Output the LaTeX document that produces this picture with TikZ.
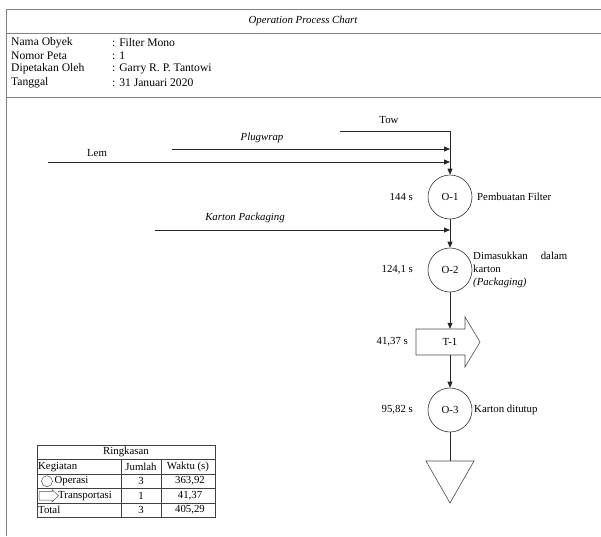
\documentclass[tikz,border=0pt]{standalone}
\usepackage{fontspec}
\setmainfont{Liberation Serif}
\usetikzlibrary{arrows.meta}
\begin{document}
\begin{tikzpicture}[x=1pt,y=-1pt,
  font=\fontsize{10.8}{13.3}\selectfont,
  frame/.style={draw=black!50, line width=0.9pt},
  op/.style={circle, draw=black!80, minimum size=44pt, inner sep=0pt, line width=0.6pt},
  conn/.style={draw=black!85, line width=0.75pt, -{Triangle[length=6pt,width=5pt]}},
  plainline/.style={draw=black!85, line width=0.75pt},
  shapeline/.style={draw=black!70, line width=0.6pt},
  lbl/.style={inner sep=0pt},
  hdr/.style={inner sep=0pt, anchor=west, font=\fontsize{11.6}{13.3}\selectfont},
  tbl/.style={draw=black!75, line width=0.6pt}]
\useasboundingbox (0,0) rectangle (601,536);

% frame
\draw[frame] (601,9) -- (6,9) -- (6,536);
\draw[frame] (6,33) -- (601,33);
\draw[frame] (6,97) -- (601,97);

% header
\node[lbl] (title) at (303,21) {\itshape Operation Process Chart};
\node[hdr] (h1) at (11,42.5) {Nama Obyek};
\node[hdr] (h2) at (11,55.8) {Nomor Peta};
\node[hdr] (h3) at (11,69.1) {Dipetakan Oleh};
\node[hdr] (h4) at (11,82.4) {Tanggal};
\node[hdr] (v1) at (112,42.5) {: Filter Mono};
\node[hdr] (v2) at (112,55.8) {: 1};
\node[hdr] (v3) at (112,69.1) {: Garry R. P. Tantowi};
\node[hdr] (v4) at (112,82.4) {: 31 Januari 2020};

% process nodes
\node[op] (o1) at (450,197) {O-1};
\node[op] (o2) at (450,270) {O-2};
\node[lbl, minimum height=26pt] (t1) at (450,342) {T-1};
\draw[shapeline] (416,329) -- (465,329) -- (465,317) -- (480,342) -- (465,367) -- (465,355) -- (416,355) -- cycle;
\node[op] (o3) at (450,410) {O-3};
\coordinate (tri) at (450,461);
\draw[shapeline] (426,461) -- (474,461) -- (450,503) -- cycle;

% incoming materials
\coordinate (tow0) at (340,131);
\coordinate (towc) at (450,131);
\draw[conn] (tow0) -- (towc) -- (o1.north);
\node[lbl] (towl) at (389,120) {Tow};

\coordinate (pw0) at (172,149);
\draw[conn] (pw0) -- (pw0 -| towc);
\node[lbl] (pwl) at (262,138) {\itshape Plugwrap};

\coordinate (lem0) at (48,162);
\draw[conn] (lem0) -- (lem0 -| towc);
\node[lbl] (leml) at (97,153) {Lem};

\coordinate (kp0) at (155,230);
\draw[conn] (kp0) -- (kp0 -| towc);
\node[lbl] (kpl) at (245,218) {\itshape Karton Packaging};

% flow
\draw[conn] (o1.south) -- (o2.north);
\draw[conn] (o2.south) -- (t1.north);
\draw[conn] (t1.south) -- (o3.north);
\draw[plainline] (o3.south) -- (tri);

% labels
\node[lbl, anchor=east] (d1) at (413,197) {144 s};
\node[lbl, anchor=west] (n1) at (477,197) {Pembuatan Filter};
\node[lbl, anchor=east] (d2) at (413,270) {124,1 s};
\node[lbl, anchor=west, align=left] (n2) at (473,270) {\makebox[94pt][s]{Dimasukkan dalam}\\karton\\\textit{(Packaging)}};
\node[lbl, anchor=east] (d3) at (408,342) {41,37 s};
\node[lbl, anchor=east] (d4) at (413,410) {95,82 s};
\node[lbl, anchor=west] (n4) at (474,410) {Karton ditutup};

% summary table
\draw[tbl] (37,445) rectangle (215,517.5);
\foreach \yy in {459.5,474,488.5,503} \draw[tbl] (37,\yy) -- (215,\yy);
\draw[tbl] (121,459.5) -- (121,517.5);
\draw[tbl] (161,459.5) -- (161,517.5);
\node[lbl] (r0) at (126,452.2) {Ringkasan};
\node[lbl, anchor=west] (r1a) at (38,466.7) {Kegiatan};
\node[lbl] (r1b) at (141,466.7) {Jumlah};
\node[lbl] (r1c) at (188,466.7) {Waktu (s)};
\node[circle, draw=black!70, line width=0.5pt, minimum size=11pt, inner sep=0pt] (icop) at (47,481.2) {};
\node[lbl, anchor=west] (r2a) at (54.5,481.2) {Operasi};
\node[lbl] (r2b) at (141,481.2) {3};
\node[lbl] (r2c) at (190,481.2) {363,92};
\draw[draw=black!70, line width=0.5pt] (39,491.5) -- (52,491.5) -- (52,489.5) -- (58.5,495.7) -- (52,502) -- (52,500) -- (39,500) -- cycle;
\node[lbl, anchor=west] (r3a) at (58,495.7) {Transportasi};
\node[lbl] (r3b) at (141,495.7) {1};
\node[lbl] (r3c) at (190,495.7) {41,37};
\node[lbl, anchor=west] (r4a) at (38,510.2) {Total};
\node[lbl] (r4b) at (141,510.2) {3};
\node[lbl] (r4c) at (190,510.2) {405,29};
\end{tikzpicture}
\end{document}
